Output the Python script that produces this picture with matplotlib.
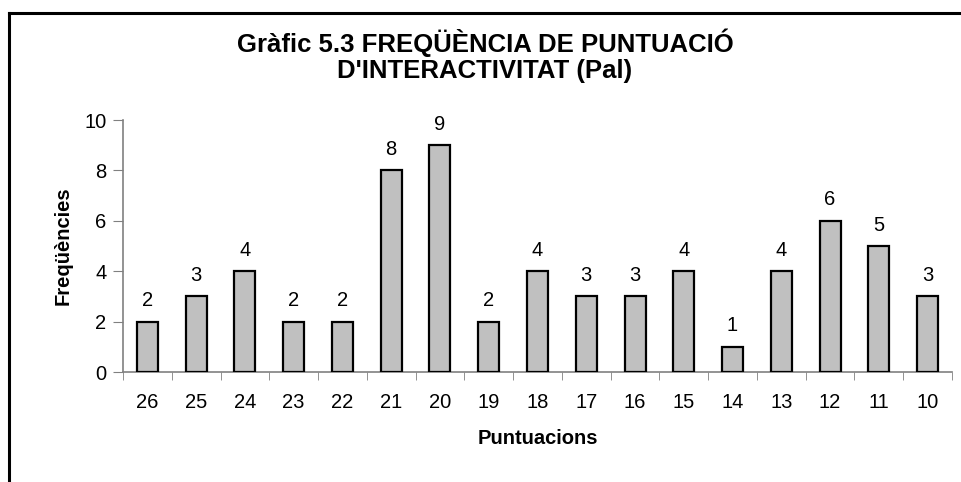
import matplotlib
matplotlib.use("Agg")
import matplotlib.pyplot as plt
from matplotlib.lines import Line2D

categories = ["26", "25", "24", "23", "22", "21", "20", "19", "18", "17", "16", "15", "14", "13", "12", "11", "10"]
values = [2, 3, 4, 2, 2, 8, 9, 2, 4, 3, 3, 4, 1, 4, 6, 5, 3]
title = "Gràfic 5.3 FREQÜÈNCIA DE PUNTUACIÓ\nD'INTERACTIVITAT (Pal)"
xlabel = "Puntuacions"
ylabel = "Freqüències"

plt.rcParams['font.family'] = ['Liberation Sans', 'DejaVu Sans']

fig = plt.figure(figsize=(9.61, 4.82), dpi=100)
ax = fig.add_axes([123/961, 1-372/482, (952-123)/961, (372-120)/482])

x = list(range(len(categories)))
ax.bar(x, values, width=0.43, color="#C0C0C0", edgecolor="black", linewidth=1.6, zorder=3)
for xi, v in zip(x, values):
    ax.text(xi, v + 0.45, str(v), ha="center", va="bottom", fontsize=14.5)

ax.set_xlim(-0.5, len(categories) - 0.5)
ax.set_ylim(0, 10)
ax.set_yticks([0, 2, 4, 6, 8, 10])
ax.set_xticks(x)
ax.set_xticklabels(categories, fontsize=14.5)
ax.tick_params(axis="x", length=0, pad=15)
ax.set_xticks([i - 0.5 for i in range(len(categories) + 1)], minor=True)
ax.tick_params(axis="x", which="minor", length=6, color="#808080", direction="out")
ax.tick_params(axis="y", labelsize=14.5, length=7, color="#808080", pad=5)
for s in ["top", "right"]:
    ax.spines[s].set_visible(False)
for s in ["left", "bottom"]:
    ax.spines[s].set_color("#808080")
    ax.spines[s].set_linewidth(1.2)

ax.set_xlabel(xlabel, fontsize=14.5, fontweight="bold", labelpad=12)
ax.set_ylabel(ylabel, fontsize=14.5, fontweight="bold", labelpad=8)
fig.text(485/961, 1-56/482, title, ha="center", va="center", fontsize=18.5, fontweight="bold", linespacing=1.12)

# frame lines (top and left) around the chart image
fig.add_artist(Line2D([9/961, 1.0], [1-12.5/482, 1-12.5/482], transform=fig.transFigure, color="black", linewidth=2.2))
fig.add_artist(Line2D([9/961, 9/961], [0, 1-12.5/482], transform=fig.transFigure, color="black", linewidth=2.2))

fig.savefig("out.png", dpi=100)
